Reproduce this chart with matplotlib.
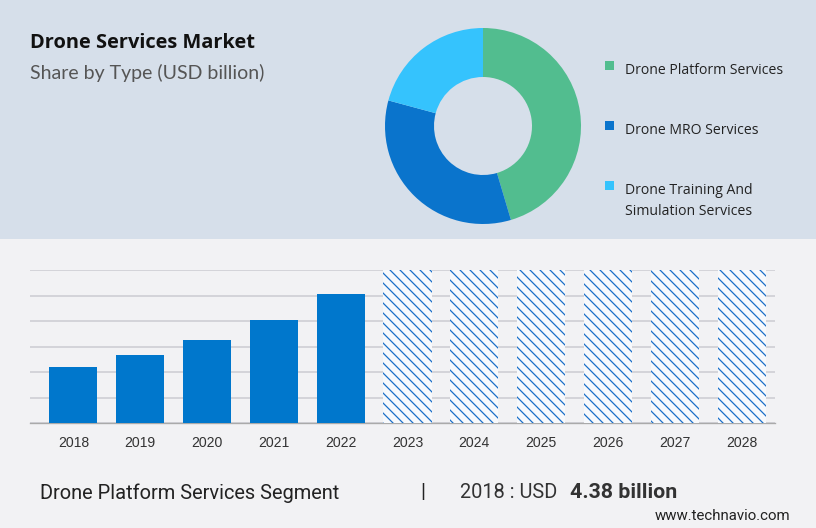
import matplotlib.pyplot as plt
from matplotlib.patches import Rectangle

# donut data (share by type)
segments = ['Drone Platform Services', 'Drone MRO Services',
            'Drone Training And\nSimulation Services']
shares = [45.4, 33.8, 20.8]
seg_colors = ['#52bd8f', '#0a74cc', '#35c3fd']

# bar data (USD billion), forecast years shown as hatched placeholders
years = ['2018', '2019', '2020', '2021', '2022',
         '2023', '2024', '2025', '2026', '2027', '2028']
values = [4.38, 5.32, 6.49, 8.10, 10.14]
forecast = [12, 12, 12, 12, 12, 12]

W, H = 816, 528
plt.rcParams['hatch.linewidth'] = 0.75
fig = plt.figure(figsize=(6.8, 4.4), dpi=120)
fig.patch.set_facecolor('#f2f2f4')
fig.patches.append(Rectangle((0, 1 - 239 / H), 1, 239 / H, transform=fig.transFigure,
                             facecolor='#d6dfea', edgecolor='none', zorder=-5))

fig.text(30 / W, 1 - 43 / H, 'Drone Services Market', fontsize=12, fontweight='bold',
         family='Open Sans', va='center', color='#111111')
fig.text(30 / W, 1 - 73 / H, 'Share by Type (USD billion)', fontsize=11.7,
         family='Lato', va='center', color='#555555')

# donut
ax_d = fig.add_axes([(483 - 100) / W, (H - 126 - 100) / H, 200 / W, 200 / H])
ax_d.pie(shares, colors=seg_colors, startangle=90, counterclock=False, radius=0.98,
         wedgeprops=dict(width=0.49, edgecolor='none'))
ax_d.set_xlim(-1, 1)
ax_d.set_ylim(-1, 1)
ax_d.axis('off')

leg_y = [69, 129, 189]
for lab, col, y in zip(segments, seg_colors, leg_y):
    fig.patches.append(Rectangle((605 / W, 1 - (y + 1) / H), 9 / W, 9 / H,
                                 transform=fig.transFigure, facecolor=col, edgecolor='none'))
    fig.text(625 / W, 1 - (y - 6) / H, lab, fontsize=8.4, family='Open Sans',
             va='top', color='#222222', linespacing=1.55)

# bars
ax = fig.add_axes([30 / W, (H - 423) / H, (775 - 30) / W, (423 - 270) / H])
ax.set_facecolor('none')
n_hist = len(values)
ax.bar(range(n_hist), values, width=0.72, color='#0077cc', zorder=3)
ax.bar(range(n_hist, len(years)), forecast, width=0.72, facecolor='#f7f9fc',
       edgecolor='#1a6fc8', linewidth=0, hatch='\\\\\\\\', zorder=3)
ax.set_xlim(-0.65, 10.5)
ax.set_ylim(0, 12)
ax.set_yticks(range(0, 13, 2))
ax.yaxis.grid(True, color='#cfcfd4', linewidth=1)
ax.set_axisbelow(True)
ax.tick_params(axis='y', left=False, labelleft=False)
ax.tick_params(axis='x', length=0, pad=8, labelcolor='#333333')
ax.set_xticks(range(len(years)))
ax.set_xticklabels(years, fontsize=8.4, family='Liberation Sans')
for s in ['top', 'right', 'left']:
    ax.spines[s].set_visible(False)
ax.spines['bottom'].set_color('#aaaaaa')

# footer
fig.text(40 / W, 1 - 493 / H, 'Drone Platform Services Segment', fontsize=12,
         family='Roboto', va='center', color='#222222')
fig.text(423 / W, 1 - 493 / H, '|', fontsize=12, family='Roboto', va='center',
         ha='center', color='#222222')
fig.text(460 / W, 1 - 493 / H, '2018 : USD', fontsize=12, family='Roboto',
         va='center', color='#333333')
fig.text(570 / W, 1 - 493 / H, '4.38 billion', fontsize=12.8, family='Roboto',
         fontweight='bold', va='center', color='#333333')
fig.text(790 / W, 1 - 516 / H, 'www.technavio.com', fontsize=9, family='Roboto',
         va='center', ha='right', color='#222222')

fig.savefig('out.png', dpi=120, facecolor=fig.get_facecolor())
